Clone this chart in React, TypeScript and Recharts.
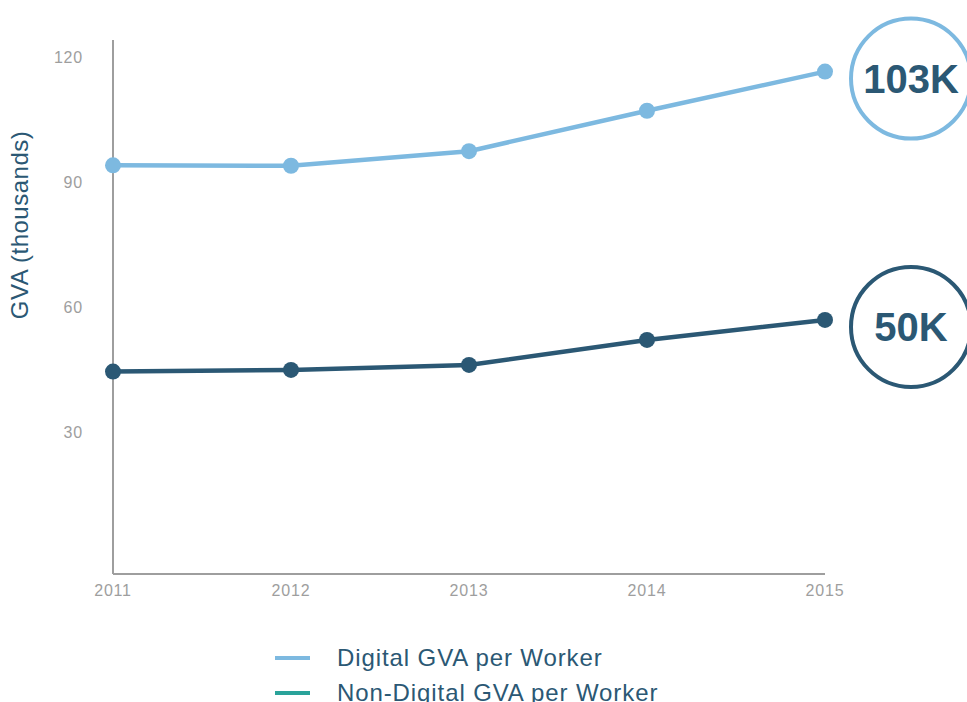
import { LineChart, Line, XAxis, YAxis, Label } from 'recharts';

const years = ['2011', '2012', '2013', '2014', '2015'];
const digitalGva = [94.0, 93.9, 97.4, 107.1, 116.5];
const nonDigitalGva = [44.5, 44.9, 46.1, 52.1, 56.9];
const yTicks = [30, 60, 90, 120];
const digitalBadge = '103K';
const nonDigitalBadge = '50K';

const LIGHT = '#7db9e0';
const DARK = '#2b5874';
const TEAL = '#2aa39a';
const GREY = '#9e9e9e';
const FONT = '"Liberation Sans", Arial, sans-serif';

const data = years.map((year, i) => ({
  year,
  digital: digitalGva[i],
  nonDigital: nonDigitalGva[i],
}));

const legendItems = [
  { label: 'Digital GVA per Worker', color: LIGHT },
  { label: 'Non-Digital GVA per Worker', color: TEAL },
];

// circled value next to the last point of a series
function makeBadge(text: string, color: string) {
  return (props: any) => {
    const { x, y, index } = props;
    if (index !== years.length - 1) return null;
    const cx = x + 86;
    const cy = y + 7;
    return (
      <g>
        <circle cx={cx} cy={cy} r={60} fill="#fff" stroke={color} strokeWidth={4} />
        <text
          x={cx}
          y={cy}
          textAnchor="middle"
          dominantBaseline="central"
          fontFamily={FONT}
          fontWeight="bold"
          fontSize={40}
          fill={DARK}
        >
          {text}
        </text>
      </g>
    );
  };
}

function ChartLegend() {
  return (
    <div style={{ position: 'absolute', left: 0, top: 640, width: 967, fontFamily: FONT }}>
      {legendItems.map((item) => (
        <div key={item.label} style={{ display: 'flex', alignItems: 'center', height: 35 }}>
          <span
            style={{
              display: 'inline-block',
              width: 35,
              height: 4,
              background: item.color,
              marginLeft: 275,
              marginRight: 27,
            }}
          />
          <span style={{ fontSize: 24, color: DARK, letterSpacing: 0.9, whiteSpace: 'nowrap' }}>{item.label}</span>
        </div>
      ))}
    </div>
  );
}

const tickStyle = { fill: GREY, fontSize: 16, fontFamily: FONT, letterSpacing: 0.8 };

export default function App() {
  return (
    <div style={{ position: 'absolute', left: 0, top: 0, width: 967, height: 702, overflow: 'hidden', background: '#fff' }}>
      <LineChart width={967} height={702} data={data} margin={{ top: 40, right: 142, left: 0, bottom: 98 }}>
        <XAxis
          dataKey="year"
          height={30}
          axisLine={{ stroke: GREY, strokeWidth: 2 }}
          tickLine={false}
          tickSize={0}
          tickMargin={11}
          tick={tickStyle}
        />
        <YAxis
          width={113}
          domain={[-4.08, 124.08]}
          ticks={yTicks}
          axisLine={{ stroke: GREY, strokeWidth: 2 }}
          tickLine={false}
          tickSize={0}
          tickMargin={30}
          tick={tickStyle}
        >
          <Label
            content={() => (
              <text
                x={0}
                y={0}
                transform="translate(28 225) rotate(-90)"
                textAnchor="middle"
                fontFamily={FONT}
                fontSize={24}
                letterSpacing={0.5}
                fill={DARK}
              >
                GVA (thousands)
              </text>
            )}
          />
        </YAxis>
        <Line
          dataKey="digital"
          stroke={LIGHT}
          strokeWidth={4.5}
          dot={{ r: 8, fill: LIGHT, stroke: 'none' }}
          activeDot={false}
          label={makeBadge(digitalBadge, LIGHT)}
          isAnimationActive={false}
        />
        <Line
          dataKey="nonDigital"
          stroke={DARK}
          strokeWidth={4.5}
          dot={{ r: 8, fill: DARK, stroke: 'none' }}
          activeDot={false}
          label={makeBadge(nonDigitalBadge, DARK)}
          isAnimationActive={false}
        />
      </LineChart>
      <ChartLegend />
    </div>
  );
}
